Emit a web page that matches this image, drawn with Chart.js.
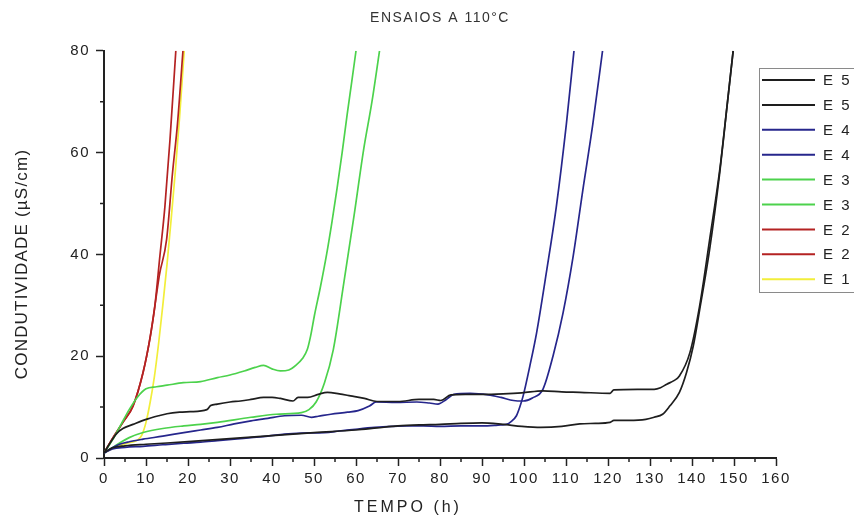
<!DOCTYPE html>
<html lang="pt-br">
<head>
    <meta charset="UTF-8">
    <title>Ensaios a 110°C</title>
    <script src="https://cdn.jsdelivr.net/npm/chart.js"></script>
    <style>
        html, body { margin: 0; padding: 0; background: #fff; }
        #grafico { display: block; }
    </style>
</head>
<body>
    <canvas id="grafico" width="854" height="528"></canvas>

    <script>
        // tempo (h) e condutividade (uS/cm) de cada ensaio
        const tempoE5a = [0, 1.5, 3, 4.5, 6.9, 9, 10.9, 13, 15, 18, 20.5, 24.5, 25.4, 27, 30, 32.5, 35, 38, 40, 42, 45, 46.2, 48.5, 51, 53.2, 56, 58.7, 62, 65, 70, 75, 78.5, 80.2, 82.6, 86, 90, 95, 99.5, 104.5, 109, 113.3, 120.5, 121.4, 127, 131, 132.5, 134, 135.7, 137, 139.5, 141.8, 144.2, 146.7, 148.3, 149.8];
        const condE5a  = [1, 3, 4.8, 5.8, 6.6, 7.3, 7.8, 8.3, 8.7, 9, 9.1, 9.5, 10.3, 10.6, 11, 11.2, 11.5, 11.9, 11.9, 11.7, 11.2, 11.9, 11.9, 12.5, 12.9, 12.6, 12.2, 11.7, 11.1, 11.1, 11.5, 11.5, 11.3, 12.4, 12.5, 12.5, 12.6, 12.8, 13.2, 13, 12.9, 12.7, 13.4, 13.5, 13.5, 13.8, 14.5, 15.2, 16.1, 20.7, 29.8, 42.9, 57.2, 68.9, 80];

        const tempoE5b = [0, 2, 5, 10, 20, 30, 40, 50, 60, 65, 70, 75, 80, 85, 90, 95, 99.5, 104, 109, 113.3, 117, 120.5, 121.4, 125, 129, 131, 133, 134.7, 137, 138.7, 140.3, 141.8, 144.2, 146.6, 148.2, 149.8];
        const condE5b  = [1, 2, 2.4, 2.7, 3.2, 3.8, 4.4, 5, 5.5, 5.9, 6.3, 6.5, 6.6, 6.8, 6.9, 6.6, 6.2, 6, 6.2, 6.7, 6.8, 7, 7.4, 7.4, 7.6, 8, 8.6, 10.2, 12.9, 16.8, 22, 29, 41, 56, 68, 80];

        const tempoE4a = [0, 2, 5, 9.3, 14, 19, 23, 27, 31, 35, 39, 43, 47, 52.5, 56, 60.5, 64.5, 68.5, 72, 76, 80, 85, 90, 93, 94.5, 95.8, 97, 98.2, 99, 99.8, 101.4, 103, 105.3, 107.7, 110.1, 111.9];
        const condE4a  = [1, 1.8, 2.1, 2.3, 2.6, 2.9, 3.1, 3.4, 3.7, 4, 4.3, 4.7, 4.9, 5, 5.3, 5.7, 6, 6.2, 6.3, 6.3, 6.2, 6.3, 6.3, 6.4, 6.5, 6.6, 7.2, 8.3, 10, 12.2, 18.1, 24.6, 36.3, 49.4, 65.7, 80];

        const tempoE4b = [0, 2, 3.7, 6, 9.3, 14, 19, 23, 27, 31, 35, 39, 43, 47, 49.4, 51, 54, 58, 60.5, 63.2, 64.8, 69.5, 74.5, 77.5, 79.5, 81.5, 83.3, 87.2, 91.5, 94.5, 97.5, 99.8, 102, 104.5, 106.9, 109.3, 111.7, 114, 116.4, 118.7];
        const condE4b  = [1, 2, 2.7, 3.2, 3.7, 4.3, 5, 5.5, 6, 6.7, 7.3, 7.8, 8.3, 8.4, 8, 8.2, 8.6, 9, 9.3, 10.2, 11, 10.9, 11, 10.8, 10.6, 11.5, 12.5, 12.7, 12.4, 11.9, 11.3, 11.2, 11.8, 13.5, 20, 28.5, 39.6, 52.6, 65.7, 80];

        const tempoE3a = [0, 2, 4, 6, 8, 10, 12.5, 15, 18.9, 23, 27, 30, 33.4, 36, 38, 40, 42, 44, 45.8, 47.2, 48.4, 49.2, 50.1, 51.5, 53, 54.3, 55.5, 56.7, 57.9, 59, 60];
        const condE3a  = [1, 3.5, 6.5, 9.5, 12, 13.6, 14, 14.3, 14.8, 15, 15.8, 16.3, 17.1, 17.8, 18.2, 17.5, 17.1, 17.3, 18.3, 19.5, 21.3, 24, 28, 33.5, 40, 46.5, 53, 60, 67.5, 74, 80];

        const tempoE3b = [0, 2, 4, 6, 9.3, 14, 19, 23, 27, 35, 41, 47, 48.8, 50.5, 52.5, 54.6, 57.1, 59.5, 61.8, 63.8, 65.6];
        const condE3b  = [1, 2, 3.1, 4, 5, 5.8, 6.3, 6.6, 7, 8, 8.6, 8.9, 9.5, 11, 14.8, 21.3, 34.4, 47.4, 60.5, 70, 80];

        const tempoE2a = [0, 2, 4.5, 6.9, 9.3, 10.9, 12.1, 13.3, 14.5, 15.7, 17.1];
        const condE2a  = [1, 3.8, 7, 10.2, 16.8, 23.3, 29.8, 39.6, 49.4, 62.4, 80];

        const tempoE2b = [0, 2, 4.5, 6.9, 9.3, 10.9, 12.1, 13.2, 14.9, 16.3, 17.5, 18.8];
        const condE2b  = [1, 3.8, 7, 10.2, 16.8, 23.3, 29.8, 36, 42.9, 55.9, 65.7, 80];

        const tempoE1 = [0, 2, 4, 6, 8, 9, 10, 11, 12, 13, 14, 15, 16, 17, 18, 19.1];
        const condE1  = [1, 1.8, 2.5, 3, 3.5, 4.5, 7, 11, 16, 22.5, 30, 38, 47, 56.5, 67, 80];

        const rotulos = ['E 5', 'E 5', 'E 4', 'E 4', 'E 3', 'E 3', 'E 2', 'E 2', 'E 1'];
        const cores = ['#1e1e1e', '#1e1e1e', '#26268c', '#26268c', '#4cd24c', '#4cd24c', '#b42222', '#b42222', '#f2ee3a'];

        const pontos = (t, c) => t.map((x, i) => ({ x: x, y: c[i] }));

        const series = [
            pontos(tempoE5a, condE5a), pontos(tempoE5b, condE5b),
            pontos(tempoE4a, condE4a), pontos(tempoE4b, condE4b),
            pontos(tempoE3a, condE3a), pontos(tempoE3b, condE3b),
            pontos(tempoE2a, condE2a), pontos(tempoE2b, condE2b),
            pontos(tempoE1, condE1)
        ];

        const fonte = "'Liberation Sans', Arial, sans-serif";

        // espacamento entre letras, como no original
        const espacamento = {
            id: 'espacamento',
            beforeUpdate(chart) { chart.ctx.letterSpacing = '1.5px'; },
            beforeDraw(chart) { chart.ctx.letterSpacing = '1.5px'; }
        };

        // marcas menores nos eixos
        const marcasMenores = {
            id: 'marcasMenores',
            afterDraw(chart) {
                const { ctx, scales: { x, y } } = chart;
                ctx.save();
                ctx.strokeStyle = '#222';
                ctx.lineWidth = 1.5;
                ctx.beginPath();
                for (let v = 5; v < 160; v += 10) {
                    const px = x.getPixelForValue(v);
                    ctx.moveTo(px, y.bottom);
                    ctx.lineTo(px, y.bottom + 4);
                }
                for (let v = 10; v < 80; v += 20) {
                    const py = y.getPixelForValue(v);
                    ctx.moveTo(x.left, py);
                    ctx.lineTo(x.left - 4, py);
                }
                ctx.stroke();
                ctx.restore();
            }
        };

        // titulos dos eixos
        const titulosEixos = {
            id: 'titulosEixos',
            afterDraw(chart) {
                const ctx = chart.ctx;
                ctx.save();
                ctx.fillStyle = '#222';
                ctx.textAlign = 'center';
                ctx.textBaseline = 'middle';
                ctx.font = '16px ' + fonte;
                ctx.letterSpacing = '3px';
                ctx.fillText('TEMPO (h)', 408, 508);
                ctx.translate(22, 264);
                ctx.rotate(-Math.PI / 2);
                ctx.font = '17px ' + fonte;
                ctx.letterSpacing = '1.2px';
                ctx.fillText('CONDUTIVIDADE (µS/cm)', 0, 0);
                ctx.restore();
            }
        };

        // legenda em caixa, sobre a area do grafico
        const legendaCaixa = {
            id: 'legendaCaixa',
            afterDraw(chart) {
                const ctx = chart.ctx;
                const conjuntos = chart.data.datasets;
                ctx.save();
                ctx.fillStyle = '#fff';
                ctx.fillRect(760, 68, 100, 224);
                ctx.strokeStyle = '#8a8a8a';
                ctx.lineWidth = 1;
                ctx.strokeRect(759.5, 68.5, 100, 224);
                ctx.font = '15px ' + fonte;
                ctx.letterSpacing = '2px';
                ctx.textBaseline = 'middle';
                conjuntos.forEach((ds, i) => {
                    const y = 80 + i * 24.9;
                    ctx.strokeStyle = ds.borderColor;
                    ctx.lineWidth = 2;
                    ctx.beginPath();
                    ctx.moveTo(762, y);
                    ctx.lineTo(815, y);
                    ctx.stroke();
                    ctx.fillStyle = '#222';
                    ctx.fillText(ds.label, 823, y + 1);
                });
                ctx.restore();
            }
        };

        const datasets = series.map((dados, i) => ({
            label: rotulos[i],
            data: dados,
            borderColor: cores[i],
            backgroundColor: cores[i],
            borderWidth: 1.7,
            pointRadius: 0,
            cubicInterpolationMode: 'monotone',
            fill: false
        }));

        new Chart(document.getElementById('grafico'), {
            type: 'line',
            data: { datasets: datasets },
            options: {
                responsive: false,
                animation: false,
                layout: { padding: { left: 0, right: 78, top: 0, bottom: 0 } },
                plugins: {
                    legend: { display: false },
                    tooltip: { enabled: false },
                    title: {
                        display: true,
                        fullSize: false,
                        text: 'ENSAIOS A 110°C',
                        color: '#333',
                        font: { family: fonte, size: 14, weight: 'normal' },
                        padding: { top: 10, bottom: 24 }
                    }
                },
                scales: {
                    x: {
                        type: 'linear',
                        min: 0,
                        max: 160,
                        afterFit(scale) { scale.height = 70; },
                        ticks: {
                            stepSize: 10,
                            color: '#222',
                            padding: 4,
                            maxRotation: 0,
                            font: { family: fonte, size: 15 }
                        },
                        grid: { drawOnChartArea: false, tickLength: 8, tickColor: '#222', tickWidth: 1.5 },
                        border: { color: '#222', width: 2 }
                    },
                    y: {
                        min: 0,
                        max: 80,
                        afterFit(scale) { scale.width = 104; },
                        ticks: {
                            stepSize: 20,
                            color: '#222',
                            padding: 6,
                            font: { family: fonte, size: 15 }
                        },
                        grid: { drawOnChartArea: false, tickLength: 8, tickColor: '#222', tickWidth: 1.5 },
                        border: { color: '#222', width: 2 }
                    }
                }
            },
            plugins: [espacamento, marcasMenores, titulosEixos, legendaCaixa]
        });
    </script>
</body>
</html>
